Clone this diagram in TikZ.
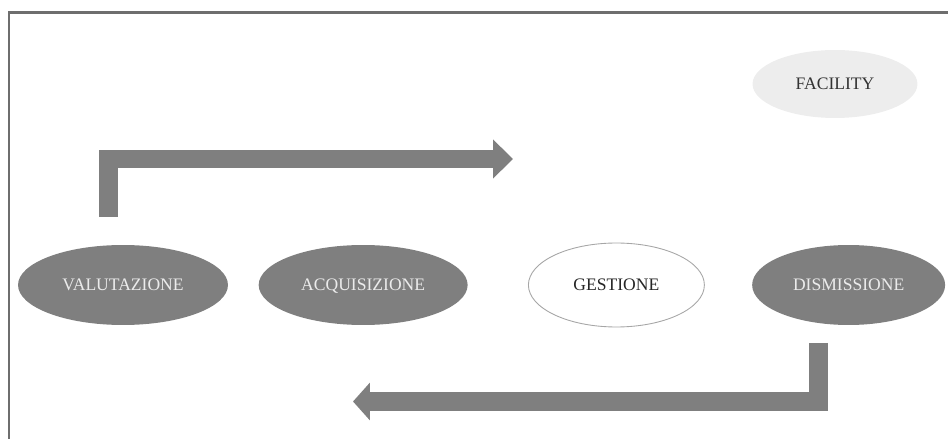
\documentclass[tikz,border=0pt]{standalone}
\usepackage{fontspec}
\setmainfont{Liberation Serif}
\usetikzlibrary{shapes.geometric, arrows.meta, positioning}

\definecolor{phasegray}{HTML}{7F7F7F}
\definecolor{facgray}{HTML}{EDEDED}
\definecolor{framegray}{HTML}{6E6E6E}

\begin{document}
\begin{tikzpicture}[
  x=0.02cm, y=-0.02cm,
  phase/.style={ellipse, fill=phasegray, minimum height=1.6cm, inner sep=0pt,
    text height=1.6ex, text depth=0.2ex, text=white!92!black, font=\normalsize},
  phaselight/.style={ellipse, draw=gray!70, line width=0.5pt, fill=white,
    minimum height=1.68cm, inner sep=0pt, text height=1.6ex, text depth=0.2ex,
    text=black!85, font=\normalsize},
  facbox/.style={ellipse, fill=facgray, inner sep=0pt, text=black!80, font=\normalsize},
  flow/.style={draw=phasegray, line width=0.38cm, line join=miter}
]

\useasboundingbox (0,0) rectangle (948,439);

% cornice
\draw [framegray, line width=0.06cm] (948,13) -- (9,13) -- (9,439);

% fasi
\node (val) [phase, minimum width=4.2cm] at (123,285) {VALUTAZIONE};
\node (acq) [phase, minimum width=4.18cm, right=0.6cm of val] {ACQUISIZIONE};
\node (ges) [phaselight, minimum width=3.52cm, right=1.2cm of acq] {GESTIONE};
\node (dis) [phase, minimum width=3.86cm, right=0.94cm of ges] {DISMISSIONE};

% facility
\node (fac) [facbox, minimum width=3.3cm, minimum height=1.36cm] at (835,84) {FACILITY};

% frecce
\coordinate (topstart) at (108.5,217);
\coordinate (topend) at (513,159);
\coordinate (botstart) at (818.5,343);
\coordinate (botend) at (353,401.5);

\draw [flow, -{Triangle[length=0.4cm, width=0.76cm]}] (topstart) |- (topend);
\draw [flow, -{Triangle[length=0.34cm, width=0.74cm]}] (botstart) |- (botend);

\end{tikzpicture}
\end{document}
